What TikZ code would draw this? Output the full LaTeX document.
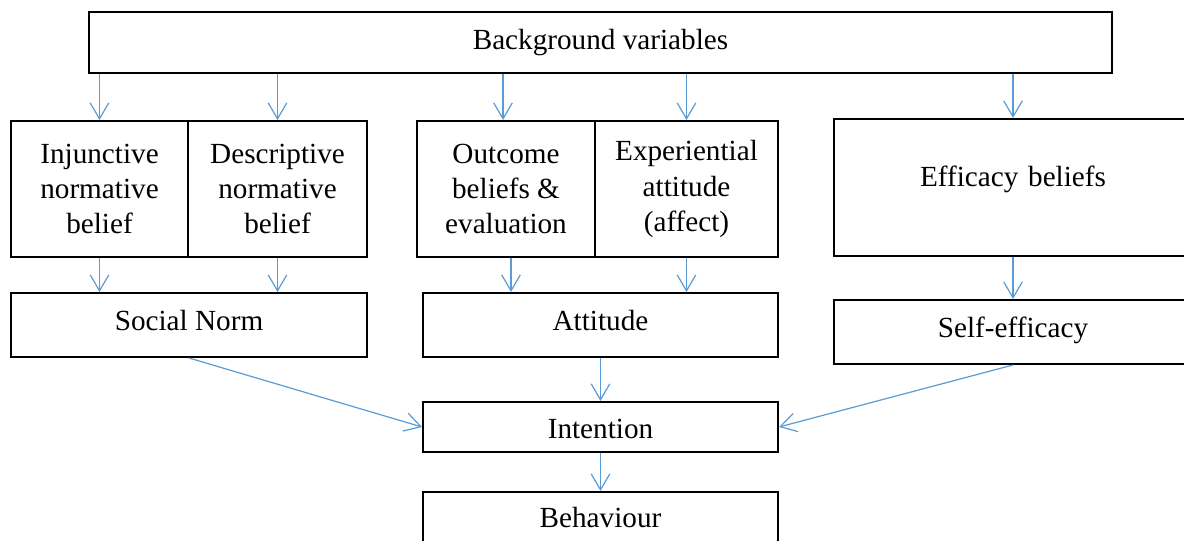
\documentclass[tikz,border=0pt]{standalone}
\usepackage{fontspec}
\setmainfont{Liberation Serif}
\usetikzlibrary{arrows.meta}
\definecolor{linkblue}{HTML}{5B9BD5}
% shift a label vertically without changing the space it takes
\newcommand\lift[2]{\raisebox{#1}[\height][\depth]{#2}}
\begin{document}
\begin{tikzpicture}[x=0.75pt,y=-0.75pt,
  box/.style={draw=black, line width=1.5pt, inner sep=0pt, align=center,
    font=\fontsize{21.9}{26.3}\selectfont},
  link/.style={draw=linkblue, line width=0.9pt,
    -{Straight Barb[length=12pt,width=14pt,line width=0.9pt]}}]
\useasboundingbox (0,0) rectangle (1184,541);

% top row
\node[box, minimum width=767.25pt, minimum height=45.75pt] (bg) at (600.5,42.5) {Background variables};

% belief boxes
\node[box, minimum width=132.75pt, minimum height=102pt] (inj) at (99.5,189) {Injunctive\\normative\\belief};
\node[box, minimum width=134.25pt, minimum height=102pt] (des) at (277.5,189) {Descriptive\\normative\\belief};
\node[box, minimum width=133.5pt, minimum height=102pt] (out) at (506,189) {Outcome\\beliefs \&\\evaluation};
\node[box, minimum width=137.25pt, minimum height=102pt] (exp) at (686.5,189) {Experiential\\attitude\\(affect)};
\node[box, minimum width=268.5pt, minimum height=102.75pt, text width=261pt] (eff) at (1013,187.5) {\lift{6pt}{Efficacy beliefs}\hspace*{7pt}};

% determinants
\node[box, minimum width=267pt, minimum height=48pt] (sn) at (189,325) {\lift{3pt}{Social Norm}};
\node[box, minimum width=266.25pt, minimum height=48pt] (att) at (600.5,325) {\lift{3pt}{Attitude}};
\node[box, minimum width=268.5pt, minimum height=48pt, text width=261pt] (se) at (1013,332) {\lift{1.5pt}{Self-efficacy}\hspace*{7pt}};

% outcome chain
\node[box, minimum width=266.25pt, minimum height=37.5pt] (int) at (600.5,427) {\lift{-1.5pt}{Intention}};
\node[box, minimum width=266.25pt, minimum height=38.25pt] (beh) at (600.5,517.5) {Behaviour};

% background variables feed every belief
\draw[link] (bg.south -| inj.north) -- (inj.north);
\draw[link] (bg.south -| des.north) -- (des.north);
\draw[link] ([xshift=-2.25pt]bg.south -| out.north) -- ([xshift=-2.25pt]out.north);
\draw[link] (bg.south -| exp.north) -- (exp.north);
\draw[link] (bg.south -| eff.north) -- (eff.north);

% beliefs to determinants
\draw[link] (inj.south) -- (inj.south |- sn.north);
\draw[link] (des.south) -- (des.south |- sn.north);
\draw[link] ([xshift=3.75pt]out.south) -- ([xshift=3.75pt]out.south |- att.north);
\draw[link] (exp.south) -- (exp.south |- att.north);
\draw[link] (eff.south) -- (se.north);

% determinants to intention, intention to behaviour
\draw[link] (sn.south) -- (int.west);
\draw[link] (att.south) -- (int.north);
\draw[link] (se.south) -- (int.east);
\draw[link] (int.south) -- (beh.north);
\end{tikzpicture}
\end{document}
